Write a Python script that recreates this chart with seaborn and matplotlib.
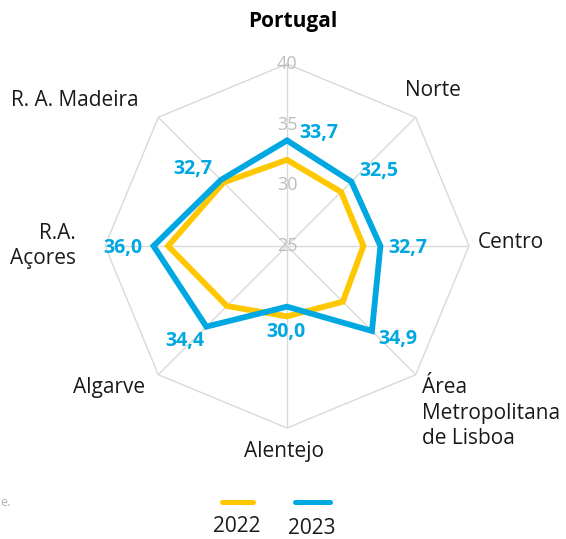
import numpy as np
import pandas as pd
import matplotlib.pyplot as plt
import seaborn as sns
from matplotlib.lines import Line2D

# Data
regioes = ['Portugal', 'Norte', 'Centro', 'Área\nMetropolitana\nde Lisboa',
           'Alentejo', 'Algarve', 'R.A.\nAçores', 'R. A. Madeira']
valores_2022 = [32.1, 31.3, 31.3, 31.5, 30.8, 32.0, 34.8, 32.4]
valores_2023 = [33.7, 32.5, 32.7, 34.9, 30.0, 34.4, 36.0, 32.7]
anos = ['2022', '2023']
cores = ['#FFC700', '#00A8E1']
ticks_r = [25, 30, 35, 40]

sns.set_theme(style='white')
plt.rcParams['font.family'] = ['Open Sans', 'DejaVu Sans']

n = len(regioes)
angulos = np.linspace(0, 2 * np.pi, n, endpoint=False)
ang_fechado = np.append(angulos, angulos[0])

rows = []
for ano, vals in zip(anos, [valores_2022, valores_2023]):
    for a, v in zip(ang_fechado, vals + vals[:1]):
        rows.append({'theta': a, 'valor': v, 'ano': ano})
df = pd.DataFrame(rows)

W, H = 566, 539
fig = plt.figure(figsize=(W / 100, H / 100), dpi=100)
cx, cy, R = 287, 246, 182
ax = fig.add_axes([(cx - R) / W, (H - cy - R) / H, 2 * R / W, 2 * R / H],
                  projection='polar')
ax.set_theta_zero_location('N')
ax.set_theta_direction(-1)
ax.set_ylim(25, 40)

# grid: spokes + outer octagon
ax.set_xticks(angulos)
ax.set_xticklabels([])
ax.set_yticks([])
ax.xaxis.grid(True, color='#d9d9d9', lw=1)
ax.yaxis.grid(False)
ax.spines['polar'].set_visible(False)
ax.set_facecolor('none')
ax.plot(ang_fechado, [40] * (n + 1), color='#d9d9d9', lw=1, clip_on=False, zorder=1)

for t in ticks_r:
    ax.text(0, t, str(t), ha='center', va='center', color='#bdbdbd', fontsize=13, zorder=2)

sns.lineplot(data=df, x='theta', y='valor', hue='ano', palette=cores, sort=False,
             estimator=None, lw=4.2, legend=False, ax=ax,
             solid_joinstyle='miter', clip_on=False, zorder=3)
ax.set_xlabel('')
ax.set_ylabel('')

# data labels for 2023
offsets = [(32, 7), (27, 11), (27, -2), (26, -8), (-1, -25), (-22, -14), (-31, -2), (-28, 11)]
for a, v, off in zip(angulos, valores_2023, offsets):
    ax.annotate(f'{v:.1f}'.replace('.', ','), xy=(a, v), xytext=off,
                textcoords='offset pixels', ha='center', va='center',
                color=cores[1], fontsize=14, fontweight='bold', zorder=4)

# category labels (pixel positions)
def ftext(x, y, s, **kw):
    fig.text(x / W, 1 - y / H, s, **kw)

lab = dict(fontsize=15, color='#1a1a1a')
ftext(293, 21, regioes[0], ha='center', va='center', fontsize=15, fontweight='bold', color='#000000')
ftext(433, 91, regioes[1], ha='center', va='center', **lab)
ftext(478, 243, regioes[2], ha='left', va='center', **lab)
ftext(422, 413, regioes[3], ha='left', va='center', linespacing=1.3, **lab)
ftext(284, 451, regioes[4], ha='center', va='center', **lab)
ftext(145, 388, regioes[5], ha='right', va='center', **lab)
ftext(76, 246, regioes[6], ha='right', va='center', linespacing=1.3, multialignment='right', **lab)
ftext(75, 100, regioes[7], ha='center', va='center', **lab)

# legend
for (x0, x1), c, ano, (tx, ty) in zip([(222, 253), (295, 330)], cores, anos,
                                      [(237, 527), (312, 529)]):
    fig.add_artist(Line2D([x0 / W, x1 / W], [1 - 502 / H] * 2, color=c, lw=3.6,
                          solid_capstyle='round'))
    ftext(tx, ty, ano, ha='center', va='center', **lab)

ftext(0, 503, 'e.', ha='left', va='center', fontsize=9, color='#b0b0b0')

fig.savefig('out.png', dpi=100)
